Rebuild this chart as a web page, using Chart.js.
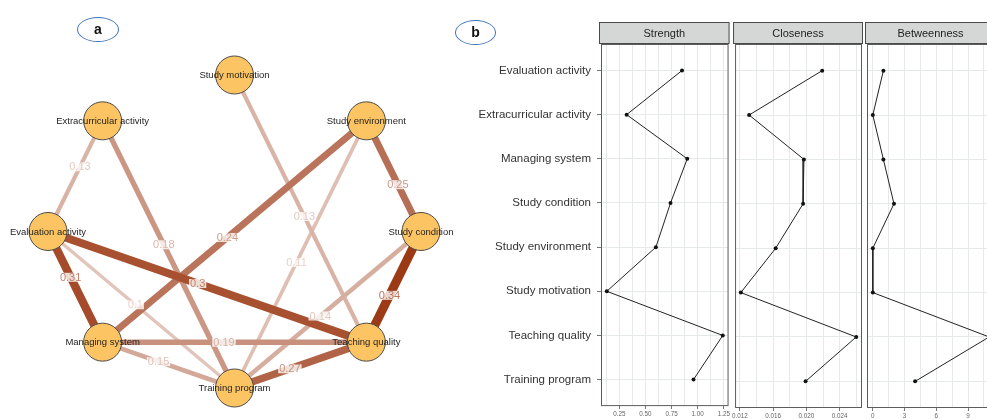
<!DOCTYPE html>
<html>
<head>
<meta charset="utf-8">
<script src="https://cdn.jsdelivr.net/npm/chart.js@4/dist/chart.umd.min.js"></script>
<style>
  html, body { margin: 0; padding: 0; background: #fff; }
  #wrap { position: relative; width: 987px; height: 419px; overflow: hidden; background: #fff; }
  #wrap canvas { position: absolute; top: 0; }
  .tag { position: absolute; border: 1.5px solid #3f74b8; border-radius: 50%; box-sizing: border-box;
         font: bold 14px "Liberation Sans", Arial, sans-serif; color: #111; text-align: center; }
</style>
</head>
<body>
<div id="wrap">
  <canvas id="net" width="460" height="419" style="left:0px"></canvas>
  <canvas id="cStrength" width="271" height="419" style="left:460px"></canvas>
  <canvas id="cCloseness" width="133" height="419" style="left:731px"></canvas>
  <canvas id="cBetweenness" width="133" height="419" style="left:864px"></canvas>
  <div class="tag" style="left:77px;top:17px;width:42px;height:25px;line-height:22px">a</div>
  <div class="tag" style="left:455px;top:20px;width:41px;height:25px;line-height:22px">b</div>
</div>
<script>
// ---- data -------------------------------------------------------------
const nodeNames = [
  "Evaluation activity", "Extracurricular activity", "Managing system", "Study condition",
  "Study environment", "Study motivation", "Teaching quality", "Training program"
];
const strengthValues    = [0.85, 0.32, 0.90, 0.74, 0.60, 0.13, 1.24, 0.96];
const closenessValues   = [0.0219, 0.0131, 0.0197, 0.0196, 0.0163, 0.0121, 0.0260, 0.0199];
const betweennessValues = [1, 0, 1, 2, 0, 0, 11, 4];

const strengthTicks    = [0.25, 0.50, 0.75, 1.00, 1.25];
const closenessTicks   = [0.012, 0.016, 0.020, 0.024];
const betweennessTicks = [0, 3, 6, 9];

const panelTitles = ["Strength", "Closeness", "Betweenness"];

// network edges (partial correlations)
const edgeFrom = [
  "Evaluation activity", "Extracurricular activity", "Study motivation", "Study environment",
  "Study environment", "Study environment", "Evaluation activity", "Evaluation activity",
  "Evaluation activity", "Study condition", "Study condition", "Managing system",
  "Managing system", "Training program"
];
const edgeTo = [
  "Extracurricular activity", "Training program", "Teaching quality", "Managing system",
  "Training program", "Study condition", "Managing system", "Teaching quality",
  "Training program", "Teaching quality", "Training program", "Teaching quality",
  "Training program", "Teaching quality"
];
const edgeWeight = [0.13, 0.18, 0.13, 0.24, 0.11, 0.25, 0.31, 0.3, 0.1, 0.34, 0.14, 0.19, 0.15, 0.27];

// circle layout order, clockwise from the top
const circleOrder = [
  "Study motivation", "Study environment", "Study condition", "Teaching quality",
  "Training program", "Managing system", "Evaluation activity", "Extracurricular activity"
];

// ---- styling ----------------------------------------------------------
const edgeLabelAt = [0.585, 0.464, 0.53, 0.527, 0.53, 0.577, 0.414, 0.47, 0.468, 0.577, 0.54, 0.46, 0.424, 0.42];
const FONT = '"Liberation Sans", Arial, sans-serif';
Chart.defaults.font.family = FONT;

const maxW = Math.max(...edgeWeight);
const edgeBase = [156, 58, 22];
function edgeRGB(w, lighten) {
  const f = w / maxW;
  return edgeBase.map(c => {
    let v = 255 + f * (c - 255);
    v = v + (255 - v) * (lighten || 0);
    return Math.round(v);
  });
}
function edgeColor(w, lighten) {
  const [r, g, b] = edgeRGB(w, lighten);
  return `rgb(${r},${g},${b})`;
}
function edgeWidth(w) { return 1.2 + 7.8 * (w / maxW); }

const nodePos = {};
circleOrder.forEach((n, i) => {
  const th = Math.PI / 2 - i * Math.PI / 4;
  nodePos[n] = { x: Math.cos(th), y: Math.sin(th) };
});

// ---- panel a: network ------------------------------------------------
const netText = {
  id: 'netText',
  afterDatasetsDraw(chart) {
    const { ctx, scales: { x, y } } = chart;
    ctx.save();
    ctx.textAlign = 'center';
    ctx.textBaseline = 'middle';
    ctx.font = '11px ' + FONT;
    edgeWeight.forEach((w, i) => {
      const a = nodePos[edgeFrom[i]], b = nodePos[edgeTo[i]], t = edgeLabelAt[i];
      const px = x.getPixelForValue(a.x + (b.x - a.x) * t);
      const py = y.getPixelForValue(a.y + (b.y - a.y) * t);
      const txt = String(w);
      const tw = ctx.measureText(txt).width;
      ctx.fillStyle = 'rgba(255,255,255,0.8)';
      ctx.fillRect(px - tw / 2 - 1, py - 4.5, tw + 2, 9);
      ctx.fillStyle = edgeColor(w, 0.3);
      ctx.fillText(txt, px, py + 0.5);
    });
    ctx.font = '9.5px ' + FONT;
    ctx.fillStyle = '#1e1e1e';
    nodeNames.forEach(n => {
      ctx.fillText(n, x.getPixelForValue(nodePos[n].x), y.getPixelForValue(nodePos[n].y) + 0.5);
    });
    ctx.restore();
  }
};

const edgeSets = edgeWeight.map((w, i) => ({
  data: [nodePos[edgeFrom[i]], nodePos[edgeTo[i]]],
  showLine: true,
  borderColor: edgeColor(w),
  borderWidth: edgeWidth(w),
  borderCapStyle: 'butt',
  pointRadius: 0,
  order: 2 - w
}));

new Chart(document.getElementById('net'), {
  type: 'scatter',
  data: {
    datasets: [
      {
        data: nodeNames.map(n => nodePos[n]),
        pointRadius: 19,
        pointBackgroundColor: '#FDC463',
        pointBorderColor: '#4a4a4a',
        pointBorderWidth: 1,
        order: 0
      },
      ...edgeSets
    ]
  },
  options: {
    responsive: false, animation: false, events: [], devicePixelRatio: 1,
    layout: { autoPadding: false, padding: 0 },
    plugins: { legend: { display: false }, tooltip: { enabled: false } },
    scales: {
      x: { type: 'linear', display: false, min: -1.2574, max: 1.2091 },
      y: { type: 'linear', display: false, min: -1.1981, max: 1.4792 }
    }
  },
  plugins: [netText]
});

// ---- panel b: centrality ---------------------------------------------
const panelFrame = {
  id: 'panelFrame',
  afterDraw(chart, args, opts) {
    const { ctx, chartArea: a } = chart;
    ctx.save();
    ctx.strokeStyle = '#5c5c5c';
    ctx.lineWidth = 1;
    ctx.strokeRect(a.left + 0.5, a.top + 0.5, a.right - a.left - 1, a.bottom - a.top - 1);
    const x0 = a.left - 2, x1 = a.right + 1, y0 = 22, y1 = 44;
    ctx.fillStyle = '#d5d7d7';
    ctx.fillRect(x0, y0, x1 - x0, y1 - y0);
    ctx.strokeStyle = '#4a4a4a';
    ctx.strokeRect(x0 + 0.5, y0 + 0.5, x1 - x0 - 1, y1 - y0 - 1);
    ctx.fillStyle = '#222';
    ctx.font = '11px ' + FONT;
    ctx.textAlign = 'center';
    ctx.textBaseline = 'middle';
    ctx.fillText(opts.text, (x0 + x1) / 2, (y0 + y1) / 2 + 0.5);
    ctx.restore();
  }
};

function centralityChart(id, title, values, ticks, decimals, withLabels) {
  const lo = Math.min(...values), hi = Math.max(...values), pad = (hi - lo) * 0.05;
  const step = ticks[1] - ticks[0];
  const lines = ticks.map(t => ({ value: t, isMajor: true }));
  [ticks[0] - step / 2, ...ticks.map(t => t + step / 2)].forEach(m => {
    if (m > lo - pad && m < hi + pad) lines.push({ value: m, isMajor: false });
  });
  lines.sort((p, q) => p.value - q.value);

  return new Chart(document.getElementById(id), {
    type: 'scatter',
    data: {
      datasets: [{
        data: values.map((v, i) => ({ x: v, y: i + 1 })),
        showLine: true,
        borderColor: '#222',
        borderWidth: 1,
        pointRadius: 2,
        pointBackgroundColor: '#111',
        pointBorderWidth: 0
      }]
    },
    options: {
      responsive: false, animation: false, events: [], devicePixelRatio: 1,
      layout: { autoPadding: false, padding: { top: 44, bottom: 0, left: withLabels ? 0 : 3, right: 2 } },
      plugins: { legend: { display: false }, tooltip: { enabled: false }, panelFrame: { text: title } },
      scales: {
        x: {
          type: 'linear', min: lo - pad, max: hi + pad,
          afterBuildTicks: axis => { axis.ticks = lines.map(l => ({ ...l })); },
          afterFit: axis => { axis.height = 11; },
          grid: {
            color: '#e6e9e9', lineWidth: 1, tickLength: 3,
            tickColor: c => (c.tick && c.tick.isMajor) ? '#777' : 'rgba(0,0,0,0)'
          },
          border: { display: false },
          ticks: {
            autoSkip: false, maxRotation: 0, padding: 1, color: '#666', font: { size: 6.3 },
            callback: (v, i, ts) => ts[i].isMajor ? Number(v).toFixed(decimals) : ''
          }
        },
        y: {
          type: 'linear', reverse: true, min: 0.4, max: nodeNames.length + 0.6,
          afterBuildTicks: axis => { axis.ticks = nodeNames.map((n, i) => ({ value: i + 1 })); },
          afterFit: axis => { axis.width = withLabels ? 141 : 0; },
          grid: { color: '#e6e9e9', drawTicks: withLabels, tickLength: 4, tickColor: '#777' },
          border: { display: false },
          ticks: {
            display: withLabels, padding: 6, color: '#333', font: { size: 11.5 },
            callback: v => nodeNames[Math.round(v) - 1]
          }
        }
      }
    },
    plugins: [panelFrame]
  });
}

centralityChart('cStrength', panelTitles[0], strengthValues, strengthTicks, 2, true);
centralityChart('cCloseness', panelTitles[1], closenessValues, closenessTicks, 3, false);
centralityChart('cBetweenness', panelTitles[2], betweennessValues, betweennessTicks, 0, false);
</script>
</body>
</html>
